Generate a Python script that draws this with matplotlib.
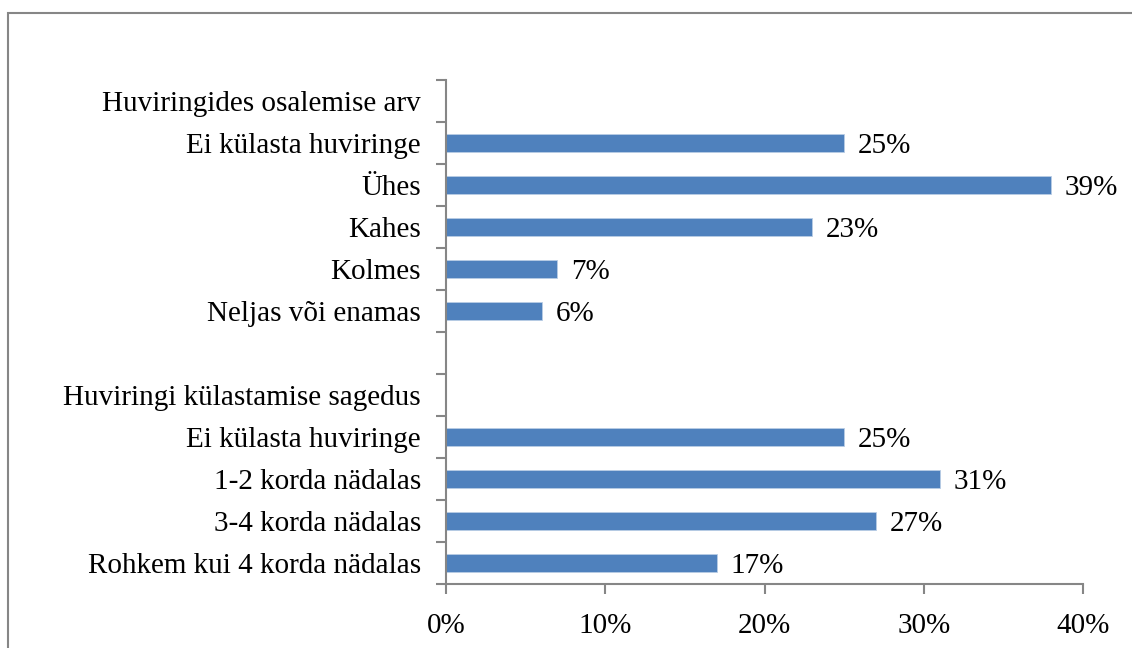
import numpy as np
import matplotlib
matplotlib.use("Agg")
import matplotlib.pyplot as plt
from matplotlib.patches import Rectangle

categories = [
    "Huviringides osalemise arv",
    "Ei külasta huviringe",
    "Ühes",
    "Kahes",
    "Kolmes",
    "Neljas või enamas",
    "",
    "Huviringi külastamise sagedus",
    "Ei külasta huviringe",
    "1-2 korda nädalas",
    "3-4 korda nädalas",
    "Rohkem kui 4 korda nädalas",
]
values = [np.nan, 25, 38, 23, 7, 6, np.nan, np.nan, 25, 31, 27, 17]
value_labels = ["", "25%", "39%", "23%", "7%", "6%", "", "", "25%", "31%", "27%", "17%"]
x_ticks = [0, 10, 20, 30, 40]
x_tick_labels = ["0%", "10%", "20%", "30%", "40%"]

plt.rcParams['font.family'] = ['Liberation Serif', 'DejaVu Serif']

W, H = 1132, 648
fig = plt.figure(figsize=(W / 100, H / 100), dpi=100)
ax = fig.add_axes([446 / W, 1 - 584 / H, (1083 - 446) / W, (584 - 80) / H])

gray = "#868686"
bar_color = "#4F81BD"
fs = 21

y = np.arange(len(categories))
vals = np.array(values, dtype=float)
mask = ~np.isnan(vals)
ax.barh(y[mask], vals[mask], height=0.41, color=bar_color, edgecolor="#B9CDE5", linewidth=0.6)

for yi, v, lab in zip(y, vals, value_labels):
    if not np.isnan(v) and lab:
        ax.annotate(lab, xy=(v, yi), xytext=(10, -2), textcoords="offset points",
                    ha="left", va="center", fontsize=fs, color="black")

ax.set_xlim(0, 40)
ax.set_ylim(len(categories) - 0.5, -0.5)

ax.set_yticks(y)
ax.set_yticklabels(categories, fontsize=fs)
ax.set_yticks(np.arange(-0.5, len(categories), 1.0), minor=True)
ax.tick_params(axis="y", which="major", length=0, pad=18)
ax.tick_params(axis="y", which="minor", length=7, width=1.5, color=gray, direction="out")

ax.set_xticks(x_ticks)
ax.set_xticklabels(x_tick_labels, fontsize=fs)
ax.tick_params(axis="x", which="major", length=7, width=1.5, color=gray, direction="out", pad=14)

for s in ["top", "right"]:
    ax.spines[s].set_visible(False)
for s in ["left", "bottom"]:
    ax.spines[s].set_color(gray)
    ax.spines[s].set_linewidth(1.5)

border = Rectangle((8 / W, -0.1), 1.2, 1 - 13 / H + 0.1, transform=fig.transFigure,
                   fill=False, edgecolor=gray, linewidth=1.5, clip_on=False)
fig.patches.append(border)

fig.savefig("out.png", dpi=100, facecolor="white")
